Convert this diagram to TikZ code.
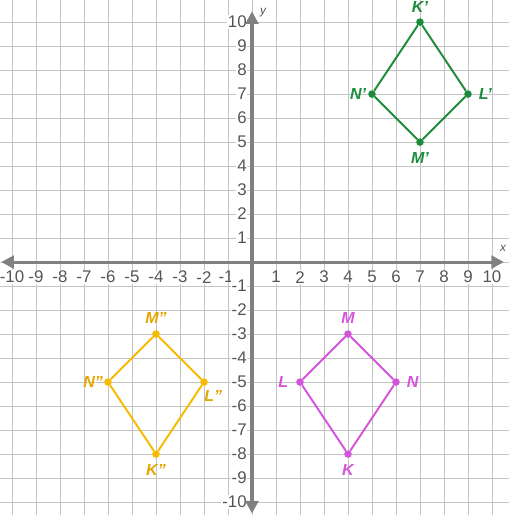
\documentclass[tikz,border=0pt]{standalone}
\usepackage{fontspec}
\setmainfont{Liberation Sans}
\usetikzlibrary{arrows.meta,positioning}

\definecolor{gridgray}{RGB}{196,196,196}
\definecolor{axisgray}{RGB}{128,128,128}
\definecolor{numgray}{RGB}{85,85,85}
\definecolor{imggreen}{RGB}{28,140,60}
\definecolor{imgpink}{RGB}{212,84,220}
\definecolor{imgyellow}{RGB}{246,186,0}
\definecolor{lblyellow}{RGB}{228,166,0}

\newcommand{\onep}{\symbol{39}}
\newcommand{\twop}{\symbol{34}}

\tikzset{
    gridline/.style={gridgray, line width=1.1pt},
    axisline/.style={axisgray, line width=3.6pt, -{Triangle[length=15pt,width=15pt]}},
    ticklabel/.style={numgray, fill=white, inner sep=1pt, font=\fontsize{20}{22}\selectfont},
    axislabel/.style={numgray, inner sep=0pt, font=\fontsize{14}{16}\selectfont\itshape},
    vertex/.style={circle, fill=#1, inner sep=0pt, minimum size=9pt},
    side/.style={#1, line width=2.3pt},
    vlabel/.style={text=#1, inner sep=0pt, font=\fontsize{19}{21}\selectfont\bfseries\itshape}
}

\begin{document}
\begin{tikzpicture}
    \useasboundingbox (-10.5,-10.54) rectangle (10.71,10.92);
    \draw[gridline] (-10.5,-10.54) grid (10.71,10.92);

    \foreach \x in {-10,...,-2,1,2,...,10}
        \node[ticklabel] (xt\x) at (\x,-0.63) {\x};
    \node[ticklabel, fill=none] (xt-1) at (-1.08,-0.63) {-1};
    \foreach \y in {-10,...,-1,1,2,...,10}
        \node[ticklabel, anchor=east] (yt\y) at (-0.18,\y) {\y};

    \coordinate (xmin) at (-10.45,0);
    \coordinate (xmax) at (10.5,0);
    \coordinate (ymin) at (0,-10.48);
    \coordinate (ymax) at (0,10.45);
    \draw[axisline] (0,0) -- (xmax);
    \draw[axisline] (0,0) -- (xmin);
    \draw[axisline] (0,0) -- (ymax);
    \draw[axisline] (0,0) -- (ymin);
    \node[axislabel] (xlab) at (10.46,0.56) {x};
    \node[axislabel] (ylab) at (0.46,10.4) {y};

    \node[vertex=imggreen] (Kp) at (7,10) {};
    \node[vertex=imggreen] (Lp) at (9,7) {};
    \node[vertex=imggreen] (Mp) at (7,5) {};
    \node[vertex=imggreen] (Np) at (5,7) {};
    \draw[side=imggreen] (Kp) -- (Lp) -- (Mp) -- (Np) -- (Kp);
    \node[vlabel=imggreen, above=6pt of Kp] (lKp) {K\onep};
    \node[vlabel=imggreen, right=8pt of Lp] (lLp) {L\onep};
    \node[vlabel=imggreen, below=8pt of Mp] (lMp) {M\onep};
    \node[vlabel=imggreen, left=2pt of Np] (lNp) {N\onep};

    \node[vertex=imgpink] (K) at (4,-8) {};
    \node[vertex=imgpink] (L) at (2,-5) {};
    \node[vertex=imgpink] (M) at (4,-3) {};
    \node[vertex=imgpink] (N) at (6,-5) {};
    \draw[side=imgpink] (K) -- (L) -- (M) -- (N) -- (K);
    \node[vlabel=imgpink, below=7pt of K] (lK) {K};
    \node[vlabel=imgpink, left=9pt of L] (lL) {L};
    \node[vlabel=imgpink, above=8pt of M] (lM) {M};
    \node[vlabel=imgpink, right=8pt of N] (lN) {N};

    \node[vertex=imgyellow] (Kpp) at (-4,-8) {};
    \node[vertex=imgyellow] (Lpp) at (-2,-5) {};
    \node[vertex=imgyellow] (Mpp) at (-4,-3) {};
    \node[vertex=imgyellow] (Npp) at (-6,-5) {};
    \draw[side=imgyellow] (Kpp) -- (Lpp) -- (Mpp) -- (Npp) -- (Kpp);
    \node[vlabel=lblyellow, below=7pt of Kpp] (lKpp) {K\twop};
    \node[vlabel=lblyellow, below right=7pt and -3pt of Lpp] (lLpp) {L\twop};
    \node[vlabel=lblyellow, above=8pt of Mpp] (lMpp) {M\twop};
    \node[vlabel=lblyellow, left=1pt of Npp] (lNpp) {N\twop};
\end{tikzpicture}
\end{document}
